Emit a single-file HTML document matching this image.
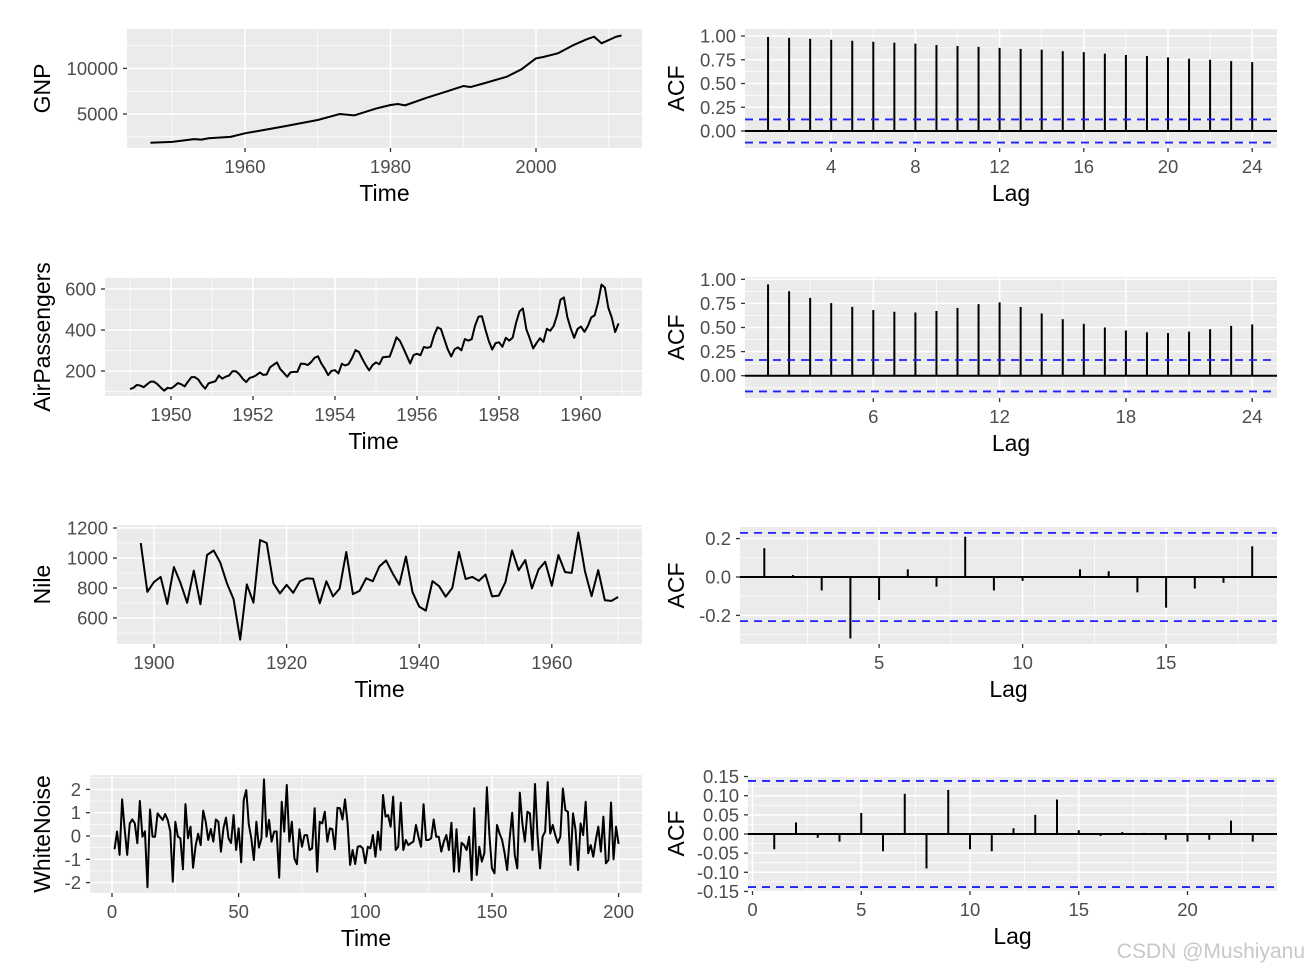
<!DOCTYPE html>
<html><head><meta charset="utf-8"><style>
html,body{margin:0;padding:0;background:#fff;}
svg{display:block;font-family:"Liberation Sans",Arial,sans-serif;}
</style></head><body>
<svg id="chart" width="1308" height="972" viewBox="0 0 1308 972" xmlns="http://www.w3.org/2000/svg"></svg>
<script>
// ---- data ----
const gnpYears = [1947,1950,1953,1954,1955,1958,1960,1965,1970,1973,1975,1978,1980,1981,1982,1985,1988,1990,1991,1993,1996,1998,2000,2001,2003,2005,2007,2008,2009,2010,2011,2011.75];
const gnpValues = [1860,1950,2250,2200,2350,2500,2890,3600,4350,5000,4850,5600,5990,6100,5950,6790,7550,8070,7960,8400,9090,9900,11100,11250,11650,12500,13200,13470,12750,13100,13470,13600];
const acfGnp = [0.99,0.98,0.97,0.96,0.95,0.94,0.93,0.92,0.905,0.895,0.885,0.875,0.865,0.855,0.84,0.83,0.815,0.80,0.79,0.775,0.76,0.75,0.735,0.725];
const apValues = [112,118,132,129,121,135,148,148,136,119,104,118,115,126,141,135,125,149,170,170,158,133,114,140,145,150,178,163,172,178,199,199,184,162,146,166,171,180,193,181,183,218,230,242,209,191,172,194,196,196,236,235,229,243,264,272,237,211,180,201,204,188,235,227,234,264,302,293,259,229,203,229,242,233,267,269,270,315,364,347,312,274,237,278,284,277,317,313,318,374,413,405,355,306,271,306,315,301,356,348,355,422,465,467,404,347,305,336,340,318,362,348,363,435,491,505,404,359,310,337,360,342,406,396,420,472,548,559,463,407,362,405,417,391,419,461,472,535,622,606,508,461,390,432];
const apStart = 1949;
const acfAp = [0.948,0.876,0.807,0.753,0.714,0.682,0.663,0.656,0.671,0.703,0.743,0.760,0.713,0.646,0.586,0.538,0.500,0.469,0.450,0.442,0.457,0.482,0.517,0.532];
const nileStart = 1898;
const nileValues = [1100,774,840,874,694,940,833,701,916,692,1020,1050,969,831,726,456,824,702,1120,1100,832,764,821,768,845,864,862,698,845,744,796,1040,759,781,865,845,944,984,897,822,1010,771,676,649,846,812,742,801,1040,860,874,848,890,744,749,838,1050,918,986,797,923,975,815,1020,906,901,1170,912,746,919,718,714,740];
const acfNile = [0.15,0.01,-0.07,-0.32,-0.12,0.04,-0.05,0.21,-0.07,-0.02,0.0,0.04,0.03,-0.08,-0.16,-0.06,-0.03,0.16];
const wnValues = [-0.57,0.19,-0.81,1.57,0.3,-0.81,0.54,0.71,0.54,-0.31,1.5,-0.03,0.2,-2.2,1.14,-0.03,-0.03,0.97,0.83,0.69,0.94,0.69,0.2,-1.96,0.61,-0.03,-0.1,-1.43,1.37,-0.1,0.4,-1.36,-0.43,0.1,-0.39,1.09,0.61,-0.17,0.3,-0.24,0.71,0.61,-0.67,0.33,0.79,-0.1,-0.3,0.9,-0.6,0.33,-1.13,1.54,1.97,0.5,-0.1,-1.03,0.61,-0.5,-0.1,2.43,-0.03,0.69,-0.24,0.19,0.2,-1.79,1.47,0.19,2.19,-0.24,0.61,-0.96,-1.21,0.29,-0.46,0.04,0.04,-0.6,-0.53,1.19,-1.53,0.61,0.54,1.04,-0.24,0.33,0.29,-0.57,1.21,1.19,0.71,1.57,0.54,-1.24,-0.6,-1.2,-0.46,-0.43,
-0.53,-1.17,-0.46,-0.53,0.04,-0.89,0.19,-0.6,1.76,0.83,0.9,0.4,1.69,-0.6,-0.46,1.43,-0.6,-0.17,-0.39,-0.31,-0.24,0.47,-0.03,-0.46,1.36,-0.17,-0.17,-0.1,0.71,-0.03,-0.03,-0.67,-0.24,0.04,-0.6,0.57,-1.53,0.29,-1.53,-0.29,-0.39,-0.6,-0.03,-1.89,1.19,-1.67,-0.46,-1.1,-0.74,2.09,0.04,-1.39,-1.6,0.47,0.11,-0.17,-0.74,-1.46,-0.1,1.0,-0.81,-1.39,1.86,0.54,-0.24,1.04,0.97,-0.6,2.23,0,-1.39,-0.03,0.19,2.31,0.11,0.47,0.04,-0.29,-0.03,2.04,1.11,1.04,-1.24,0.97,0.26,-1.46,0.54,0.04,1.47,-0.74,-0.39,-0.89,-0.17,0.4,-0.67,0.83,-1.17,-1.03,1.44,-1.0,0.4,-0.34];
const acfWn = [-0.04,0.03,-0.01,-0.02,0.055,-0.045,0.105,-0.09,0.115,-0.04,-0.045,0.015,0.05,0.09,0.01,-0.005,0.005,0.003,-0.015,-0.02,-0.015,0.035,-0.02];
const gnpXTicks = [1960,1980,2000];
const gnpYTicks = [5000,10000];
const apXTicks = [1950,1952,1954,1956,1958,1960];
const apYTicks = [200,400,600];
const nileXTicks = [1900,1920,1940,1960];
const nileYTicks = [600,800,1000,1200];
const wnXTicks = [0,50,100,150,200];
const wnYTicks = [-2,-1,0,1,2];
const acf1XTicks = [4,8,12,16,20,24];
const acf2XTicks = [6,12,18,24];
const acf3XTicks = [5,10,15];
const acf4XTicks = [0,5,10,15,20];
const acfYTicksA = [0,0.25,0.5,0.75,1];
const acfYTicks3 = [-0.2,0,0.2];
const acfYTicks4 = [-0.15,-0.1,-0.05,0,0.05,0.1,0.15];
const ciGnp = 0.1216, ciAp = 0.163, ciNile = 0.23, ciWn = 0.1386;

const NS = 'http://www.w3.org/2000/svg';
const svg = document.getElementById('chart');
function mk(tag, attrs, parent){
  const e = document.createElementNS(NS, tag);
  for (const k in attrs) e.setAttribute(k, attrs[k]);
  (parent||svg).appendChild(e);
  return e;
}
function fmt(v, dec){ return v.toFixed(dec); }

function panel(p){
  const g = mk('g', {});
  
  
  const bg = mk('rect', {x:p.x0, y:p.y0, width:p.x1-p.x0, height:p.y1-p.y0, fill:'#EBEBEB'}, g);
  
  
  p.yMinor.forEach(v=>{ const y=p.sy(v); if(y>p.y0&&y<p.y1) mk('line',{x1:p.x0,x2:p.x1,y1:y,y2:y,stroke:'#fff','stroke-width':0.7},g); });
  p.xMinor.forEach(v=>{ const x=p.sx(v); if(x>p.x0&&x<p.x1) mk('line',{x1:x,x2:x,y1:p.y0,y2:p.y1,stroke:'#fff','stroke-width':0.7},g); });
  p.yTicks.forEach(v=>{ const y=p.sy(v);
    mk('line',{x1:p.x0,x2:p.x1,y1:y,y2:y,stroke:'#fff','stroke-width':1.5},g);
    mk('line',{x1:p.x0-4,x2:p.x0,y1:y,y2:y,stroke:'#333','stroke-width':1.3},g);
    const t = mk('text',{x:p.x0-9,y:y+6.5,'text-anchor':'end','font-size':18.5,fill:'#4D4D4D'},g);
    
    
    t.textContent = fmt(v, p.yDec);
  });
  p.xTicks.forEach(v=>{ const x=p.sx(v);
    mk('line',{x1:x,x2:x,y1:p.y0,y2:p.y1,stroke:'#fff','stroke-width':1.5},g);
    mk('line',{x1:x,x2:x,y1:p.y1,y2:p.y1+4,stroke:'#333','stroke-width':1.3},g);
    const t = mk('text',{x:x,y:p.y1+25,'text-anchor':'middle','font-size':18.5,fill:'#4D4D4D'},g);
    
    
    t.textContent = String(v);
  });
  const xt = mk('text',{x:(p.x0+p.x1)/2,y:p.y1+53,'text-anchor':'middle','font-size':23,fill:'#000'},g);
  
  
  xt.textContent = p.xTitle;
  const cy=(p.y0+p.y1)/2;
  const yt = mk('text',{x:p.ytx,y:cy,'text-anchor':'middle','font-size':23,fill:'#000',transform:`rotate(-90 ${p.ytx} ${cy})`},g);
  
  
  yt.textContent = p.yTitle;
  return g;
}
function linePlot(g, xs, ys, sx, sy, name){
  const d = xs.map((x,i)=>(i?'L':'M')+sx(x).toFixed(2)+','+sy(ys[i]).toFixed(2)).join('');
  const path = mk('path',{d:d,fill:'none',stroke:'#000','stroke-width':2,'stroke-linejoin':'round'},g);
  
  
}
function acfPlot(g, p, vals, ci, name){
  vals.forEach((v,i)=>{
    const x=p.sx(i+1);
    const b = mk('line',{x1:x,x2:x,y1:p.sy(0),y2:p.sy(v),stroke:'#000','stroke-width':2},g);
    
    
  });
  const z = mk('line',{x1:p.x0,x2:p.x1,y1:p.sy(0),y2:p.sy(0),stroke:'#000','stroke-width':2},g);
  
  
  [ci,-ci].forEach(c=>{
    const l = mk('line',{x1:p.x0,x2:p.x1,y1:p.sy(c),y2:p.sy(c),stroke:'#2222FF','stroke-width':1.8,'stroke-dasharray':'8,6'},g);
    
    
  });
}

// Row 1: GNP
{ const p={name:'gnp-panel',x0:127,x1:642,y0:29,y1:148,sx:v=>245+(v-1960)*7.275,sy:v=>159.7-v*0.00913,
   xTicks:gnpXTicks,xMinor:[1950,1970,1990,2010],yTicks:gnpYTicks,yMinor:[2500,7500,12500],yDec:0,xTitle:'Time',yTitle:'GNP',ytx:50};
  const g=panel(p); linePlot(g,gnpYears,gnpValues,p.sx,p.sy,'gnp-line'); }
{ const p={name:'gnp-acf-panel',x0:745,x1:1277,y0:29,y1:148,sx:v=>747+v*21.05,sy:v=>131-v*95,
   xTicks:acf1XTicks,xMinor:[2,6,10,14,18,22],yTicks:acfYTicksA,yMinor:[-0.125,0.125,0.375,0.625,0.875],yDec:2,xTitle:'Lag',yTitle:'ACF',ytx:684};
  const g=panel(p); acfPlot(g,p,acfGnp,ciGnp,'gnp-acf'); }
// Row 2: AirPassengers
{ const p={name:'airpassengers-panel',x0:105,x1:642,y0:278,y1:396,sx:v=>171+(v-1950)*41,sy:v=>412-v*0.205,
   xTicks:apXTicks,xMinor:[1949,1951,1953,1955,1957,1959,1961],yTicks:apYTicks,yMinor:[100,300,500],yDec:0,xTitle:'Time',yTitle:'AirPassengers',ytx:50};
  const g=panel(p); linePlot(g,apValues.map((v,i)=>apStart+i/12),apValues,p.sx,p.sy,'airpassengers-line'); }
{ const p={name:'airpassengers-acf-panel',x0:745,x1:1277,y0:277,y1:398,sx:v=>747+v*21.05,sy:v=>375.7-v*96.4,
   xTicks:acf2XTicks,xMinor:[3,9,15,21],yTicks:acfYTicksA,yMinor:[-0.125,0.125,0.375,0.625,0.875],yDec:2,xTitle:'Lag',yTitle:'ACF',ytx:684};
  const g=panel(p); acfPlot(g,p,acfAp,ciAp,'airpassengers-acf'); }
// Row 3: Nile
{ const p={name:'nile-panel',x0:117,x1:642,y0:525,y1:644,sx:v=>154+(v-1900)*6.63,sy:v=>708-v*0.15,
   xTicks:nileXTicks,xMinor:[1910,1930,1950,1970],yTicks:nileYTicks,yMinor:[500,700,900,1100],yDec:0,xTitle:'Time',yTitle:'Nile',ytx:50};
  const g=panel(p); linePlot(g,nileValues.map((v,i)=>nileStart+i),nileValues,p.sx,p.sy,'nile-line'); }
{ const p={name:'nile-acf-panel',x0:740,x1:1277,y0:527,y1:644,sx:v=>735.6+v*28.7,sy:v=>577-v*192,
   xTicks:acf3XTicks,xMinor:[2.5,7.5,12.5,17.5],yTicks:acfYTicks3,yMinor:[-0.3,-0.1,0.1],yDec:1,xTitle:'Lag',yTitle:'ACF',ytx:684};
  const g=panel(p); acfPlot(g,p,acfNile,ciNile,'nile-acf'); }
// Row 4: White noise
{ const p={name:'whitenoise-panel',x0:90,x1:642,y0:775,y1:893,sx:v=>112+v*2.533,sy:v=>836-v*23.3,
   xTicks:wnXTicks,xMinor:[25,75,125,175],yTicks:wnYTicks,yMinor:[-1.5,-0.5,0.5,1.5,2.5],yDec:0,xTitle:'Time',yTitle:'WhiteNoise',ytx:50};
  const g=panel(p); linePlot(g,wnValues.map((v,i)=>i+1),wnValues,p.sx,p.sy,'whitenoise-line'); }
{ const p={name:'whitenoise-acf-panel',x0:748,x1:1277,y0:776,y1:891,sx:v=>752.5+v*21.75,sy:v=>834-v*383,
   xTicks:acf4XTicks,xMinor:[2.5,7.5,12.5,17.5,22.5],yTicks:acfYTicks4,yMinor:[-0.125,-0.075,-0.025,0.025,0.075,0.125],yDec:2,xTitle:'Lag',yTitle:'ACF',ytx:684};
  const g=panel(p); acfPlot(g,p,acfWn,ciWn,'whitenoise-acf'); }

const wm = mk('text',{x:1305,y:958,'text-anchor':'end','font-size':21,fill:'#C8C8C8'});


wm.textContent = 'CSDN @Mushiyanu';
</script>
</body></html>
